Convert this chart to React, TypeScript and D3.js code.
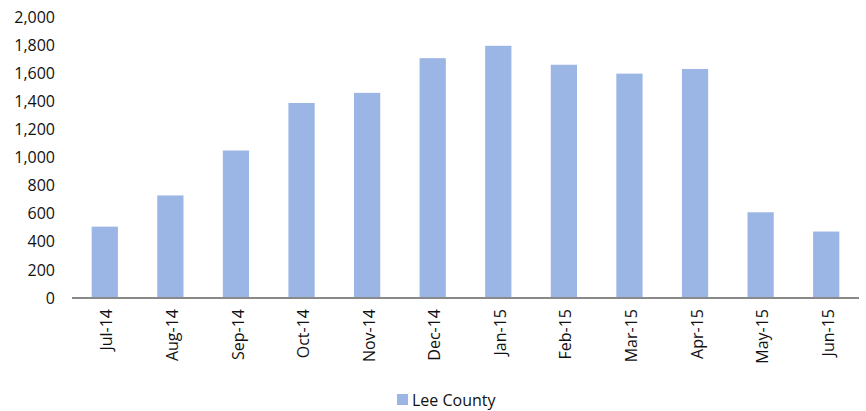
import { scaleBand, scaleLinear, format } from 'd3';

const months = ['Jul-14', 'Aug-14', 'Sep-14', 'Oct-14', 'Nov-14', 'Dec-14', 'Jan-15', 'Feb-15', 'Mar-15', 'Apr-15', 'May-15', 'Jun-15'];
const leeCounty = [508, 730, 1050, 1388, 1460, 1707, 1795, 1660, 1597, 1630, 610, 473];
const yTicks = [0, 200, 400, 600, 800, 1000, 1200, 1400, 1600, 1800, 2000];

const WIDTH = 866;
const HEIGHT = 411;
const LEFT = 72;
const RIGHT = 859;
const TOP = 17;
const BOTTOM = 298;
const FONT = '"Open Sans", "Liberation Sans", sans-serif';
const BAR_COLOR = '#9bb5e4';
const TEXT_COLOR = '#111';

export default function App() {
  const x = scaleBand<string>().domain(months).range([LEFT, RIGHT]).paddingInner(0.6).paddingOuter(0.3);
  const y = scaleLinear().domain([0, 2000]).range([BOTTOM, TOP]);
  const fmt = format(',');

  return (
    <svg width={WIDTH} height={HEIGHT} style={{ position: 'absolute', left: 0, top: 0 }} fontFamily={FONT}>
      {yTicks.map(t => (
        <text key={t} x={55} y={y(t)} dy="0.35em" textAnchor="end" fontSize={16} fill={TEXT_COLOR}>
          {fmt(t)}
        </text>
      ))}
      {months.map((m, i) => (
        <rect
          key={m}
          x={x(m)}
          y={y(leeCounty[i])}
          width={x.bandwidth()}
          height={BOTTOM - y(leeCounty[i])}
          fill={BAR_COLOR}
        />
      ))}
      <line x1={LEFT} x2={RIGHT} y1={BOTTOM} y2={BOTTOM} stroke="#898989" strokeWidth={2} />
      {months.map(m => {
        const cx = (x(m) as number) + x.bandwidth() / 2 + 2;
        return (
          <text
            key={m}
            transform={`translate(${cx},${BOTTOM + 11}) rotate(-90)`}
            textAnchor="end"
            dy="0.35em"
            fontSize={16}
            fill={TEXT_COLOR}
          >
            {m}
          </text>
        );
      })}
      <rect x={397} y={394} width={11} height={11} fill={BAR_COLOR} />
      <text x={412} y={400} dy="0.35em" fontSize={16} fill={TEXT_COLOR}>
        Lee County
      </text>
    </svg>
  );
}
